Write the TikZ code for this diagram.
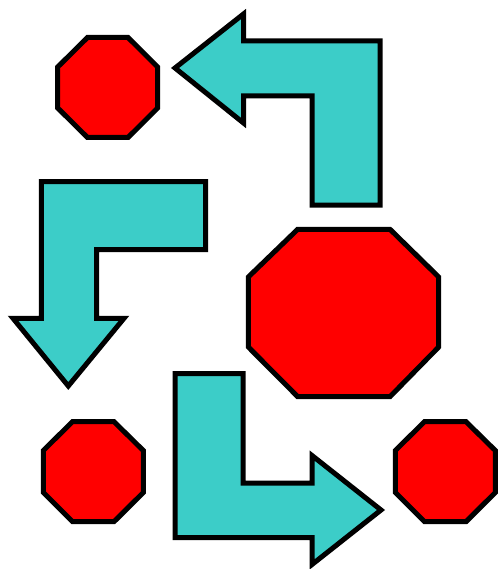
\documentclass[tikz,border=0pt]{standalone}
\definecolor{arrowcyan}{RGB}{60,205,200}
\definecolor{octred}{RGB}{255,0,0}
\tikzset{
  octa/.style={fill=octred, draw=black, line width=5pt, line join=miter},
  bentarrow/.style={fill=arrowcyan, draw=black, line width=5pt, line join=miter}
}
\begin{document}
\begin{tikzpicture}[x=1pt,y=-1pt]
\useasboundingbox (0,0) rectangle (500,569);
% top-left octagon
\draw[octa] (87.5,37.5) -- (128,37.5) -- (157.7,67) -- (157.7,108) -- (128,137.5) -- (87.5,137.5) -- (57.7,108) -- (57.7,67) -- cycle;
% top arrow (pointing left)
\draw[bentarrow] (175,68) -- (243.5,14) -- (243.5,41) -- (380,41) -- (380,205) -- (312,205) -- (312,96) -- (243.5,96) -- (243.5,123) -- cycle;
% left arrow (pointing down)
\draw[bentarrow] (41.3,181.7) -- (205.7,181.7) -- (205.7,249.5) -- (96.5,249.5) -- (96.5,318.3) -- (124,318.3) -- (68.3,386) -- (13,318.3) -- (41.3,318.3) -- cycle;
% big octagon
\draw[octa] (297.7,229.3) -- (390,229.3) -- (438.7,277) -- (438.7,347) -- (390,396.7) -- (297.7,396.7) -- (248.3,347) -- (248.3,277) -- cycle;
% bottom-left octagon
\draw[octa] (72.5,421.7) -- (114,421.7) -- (143.3,450.5) -- (143.3,492.5) -- (114,521.7) -- (72.5,521.7) -- (43.3,492.5) -- (43.3,450.5) -- cycle;
% bottom-right octagon
\draw[octa] (424.5,421.7) -- (466,421.7) -- (495.3,450.5) -- (495.3,492.5) -- (466,521.7) -- (424.5,521.7) -- (395.3,492.5) -- (395.3,450.5) -- cycle;
% bottom arrow (pointing right)
\draw[bentarrow] (175,373.5) -- (243,373.5) -- (243,483) -- (312,483) -- (312,455.5) -- (381,510) -- (312,564.5) -- (312,537.5) -- (175,537.5) -- cycle;
\end{tikzpicture}
\end{document}
